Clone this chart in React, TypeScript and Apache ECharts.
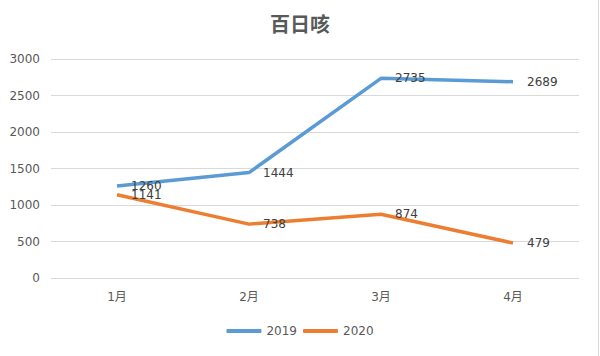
import React, { useEffect, useRef } from "react";
import * as echarts from "echarts";

const categories = ["1月", "2月", "3月", "4月"];
const series2019 = [1260, 1444, 2735, 2689];
const series2020 = [1141, 738, 874, 479];
const titleText = "百日咳";

const FONT = "'DejaVu Sans', 'Noto Sans CJK SC', sans-serif";
const TITLE_FONT = "'Noto Sans CJK SC', sans-serif";

export default function App() {
  const ref = useRef<HTMLDivElement>(null);
  useEffect(() => {
    if (!ref.current) return;
    const chart = echarts.init(ref.current, undefined, { renderer: "svg" });
    const label = {
      show: true,
      position: "right",
      distance: 14,
      color: "#404040",
      fontSize: 12,
      fontFamily: FONT,
    };
    chart.setOption({
      animation: false,
      backgroundColor: "#ffffff",
      title: {
        text: titleText,
        left: "center",
        top: 8,
        textStyle: { fontSize: 20, fontWeight: "bold", color: "#595959", fontFamily: TITLE_FONT },
      },
      legend: {
        bottom: 14,
        left: "center",
        itemWidth: 35,
        itemHeight: 4,
        itemGap: 6,
        icon: "roundRect",
        textStyle: { fontSize: 12, color: "#595959", fontFamily: FONT },
        data: ["2019", "2020"],
      },
      grid: { left: 51, right: 21, top: 59, bottom: 78, containLabel: false },
      xAxis: {
        type: "category",
        data: categories,
        boundaryGap: true,
        axisLine: { show: false },
        axisTick: { show: false },
        axisLabel: { color: "#595959", fontSize: 12, fontFamily: FONT, margin: 13 },
      },
      yAxis: {
        type: "value",
        min: 0,
        max: 3000,
        interval: 500,
        axisLine: { show: false },
        axisTick: { show: false },
        splitLine: { lineStyle: { color: "#d9d9d9", width: 1 } },
        axisLabel: {
          color: "#595959",
          fontSize: 12,
          fontFamily: FONT,
          margin: 11,
          formatter: (v: number) => String(v),
        },
      },
      graphic: [
        {
          type: "line",
          shape: { x1: 598.5, y1: 0, x2: 598.5, y2: 356 },
          style: { stroke: "#d9d9d9", lineWidth: 1 },
        },
      ],
      series: [
        {
          name: "2019",
          type: "line",
          data: series2019,
          symbol: "circle",
          symbolSize: 0,
          showSymbol: true,
          lineStyle: { color: "#5B9BD5", width: 3.5 },
          itemStyle: { color: "#5B9BD5" },
          label,
        },
        {
          name: "2020",
          type: "line",
          data: series2020,
          symbol: "circle",
          symbolSize: 0,
          showSymbol: true,
          lineStyle: { color: "#ED7D31", width: 3.5 },
          itemStyle: { color: "#ED7D31" },
          label,
        },
      ],
    });
    return () => chart.dispose();
  }, []);
  return (
    <div
      ref={ref}
      style={{ position: "fixed", left: 0, top: 0, width: 600, height: 356 }}
    />
  );
}
